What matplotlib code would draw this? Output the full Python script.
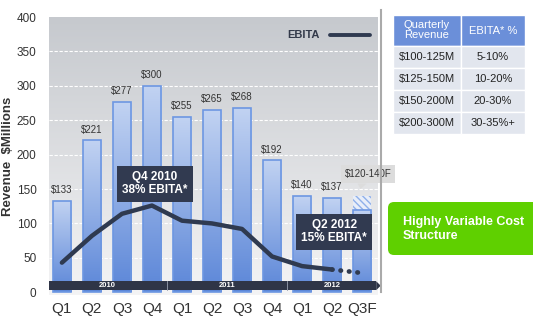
import numpy as np
from matplotlib import pyplot as plt, patches
from matplotlib.colors import LinearSegmentedColormap

quarters = ["Q1", "Q2", "Q3", "Q4", "Q1", "Q2", "Q3", "Q4", "Q1", "Q2", "Q3F"]
revenue = [133, 221, 277, 300, 255, 265, 268, 192, 140, 137, 120]
revenue_labels = ["$133", "$221", "$277", "$300", "$255", "$265", "$268", "$192", "$140", "$137", ""]
forecast_high = 140
ebita = [43, 82, 114, 126, 104, 100, 92, 52, 38, 33]
ebita_forecast = 28
years = ["2010", "2011", "2012"]
year_spans = [(0, 3), (4, 7), (8, 10)]
table_header = ["Quarterly\nRevenue", "EBITA* %"]
table_revenue = ["$100-125M", "$125-150M", "$150-200M", "$200-300M"]
table_ebita = ["5-10%", "10-20%", "20-30%", "30-35%+"]

plt.rcParams["font.family"] = ["Liberation Sans", "DejaVu Sans"]

W, H = 533, 324
fig = plt.figure(figsize=(W / 100, H / 100), dpi=100)
ax = fig.add_axes([49 / W, 1 - 295 / H, (378 - 49) / W, (295 - 17) / H])

x = np.arange(len(quarters))

# background gradient ======
bg = LinearSegmentedColormap.from_list("bg", ["#f4f4f5", "#c6c9ce"])
grad = np.linspace(0, 1, 256).reshape(-1, 1)
ax.imshow(grad, extent=[-0.43, 10.53, -4, 400], origin="lower", cmap=bg,
          aspect="auto", zorder=0)

for yv in range(50, 400, 50):
    ax.axhline(yv, color="white", lw=0.8, ls=(0, (3, 1.5)), zorder=1)

# bars ======================
barcm = LinearSegmentedColormap.from_list("bar", ["#5b86d8", "#c2d3f2"])
bars = ax.bar(x, revenue, width=0.62, facecolor="none", edgecolor="#6d97e2",
              lw=1.2, zorder=3)
for b in bars:
    bx = b.get_x()
    im = ax.imshow(grad, extent=[bx, bx + b.get_width(), 0, b.get_height()],
                   origin="lower", cmap=barcm, aspect="auto", zorder=2)
    im.set_clip_path(b)

# forecast hatched part
ax.bar(x[-1], forecast_high - revenue[-1], bottom=revenue[-1], width=0.62,
       facecolor="#e8eef9", edgecolor="#8fb0ea", hatch="\\\\\\\\\\", lw=0, zorder=2)

ax.set_xlim(-0.43, 10.53)
ax.set_ylim(-4, 400)

for xi, v, lab in zip(x, revenue, revenue_labels):
    if lab:
        ax.text(xi, v + 8, lab, ha="center", va="bottom", fontsize=7,
                color="#333333", zorder=5)

ax.text(x[-1] + 0.2, 172, "$120-140F", ha="center", va="center", fontsize=7,
        color="#333333", zorder=6,
        bbox=dict(boxstyle="square,pad=0.4", fc="#dcdcdc", ec="none"))
ax.add_patch(patches.Polygon([[x[-1] - 0.15, 158], [x[-1] + 0.15, 158], [x[-1] - 0.05, 150]],
                             closed=True, fc="#dcdcdc", ec="none", zorder=6))

# EBITA line ================
ax.plot(x[:len(ebita)], ebita, color="#2f3a50", lw=3.2, solid_capstyle="round", zorder=4)
ax.plot([x[len(ebita) - 1], x[-1]], [ebita[-1], ebita_forecast], color="#2f3a50",
        lw=3.4, ls=(0, (0.1, 1.7)), dash_capstyle="round", zorder=4)

ax.plot([8.93, 10.27], [374, 374], color="#2f3a50", lw=2.8, solid_capstyle="round", zorder=4)
ax.text(8.6, 374, "EBITA", ha="right", va="center", fontsize=8, fontweight="bold",
        color="#333a4a", zorder=4)

box = dict(boxstyle="square,pad=0.45", fc="#313a50", ec="none")
ax.text(3.1, 158, "Q4 2010\n38% EBITA*", ha="center", va="center", fontsize=8.5,
        fontweight="bold", color="white", linespacing=1.15, bbox=box, zorder=6)
ax.text(9.07, 88, "Q2 2012\n15% EBITA*", ha="center", va="center", fontsize=8.5,
        fontweight="bold", color="white", linespacing=1.15, bbox=box, zorder=6)

# year band =================
ax.add_patch(patches.Rectangle((-0.43, 3), 10.9, 13, fc="#2f3547", ec="none",
                               zorder=5, clip_on=False))
ax.add_patch(patches.Polygon([[10.47, 3], [10.47, 16], [10.62, 9.5]], closed=True,
                             fc="#2f3547", ec="none", zorder=5, clip_on=False))
for yr, (a, b) in zip(years, year_spans):
    ax.text((a + b) / 2, 9.5, yr, ha="center", va="center", fontsize=5.5,
            fontweight="bold", color="white", zorder=6)
for sep in [3.5, 7.5]:
    ax.plot([sep, sep], [3, 16], color="#9aa0b0", lw=0.6, zorder=6)

# axes config ===============
ax.set_xticks(x)
ax.set_xticklabels(quarters, fontsize=11, color="#333333")
ax.set_yticks(range(0, 401, 50))
ax.tick_params(axis="y", labelsize=8.5, colors="#333333", length=0, pad=9)
ax.tick_params(axis="x", length=0, pad=5)
for s in ax.spines.values():
    s.set_visible(False)
ax.set_ylabel("Revenue  $Millions", fontsize=9.5, fontweight="bold", color="#333333",
              labelpad=2)

# separator
fig.add_artist(plt.Line2D([381 / W, 381 / W], [1 - 292 / H, 1 - 10 / H],
                          color="#aaaaaa", lw=1.5))

# table =====================
tab = fig.add_axes([0, 0, 1, 1], facecolor="none")
tab.set_xlim(0, W)
tab.set_ylim(H, 0)
tab.axis("off")
cols = [(393, 461), (461, 525)]
for (c0, c1), txt in zip(cols, table_header):
    tab.add_patch(patches.Rectangle((c0, 15), c1 - c0, 31, fc="#6b8fd9", ec="white", lw=1))
    tab.text((c0 + c1) / 2, 30.5, txt, ha="center", va="center", fontsize=8,
             color="white", linespacing=1.0)
for i, (r, e) in enumerate(zip(table_revenue, table_ebita)):
    y0 = 46 + i * 22
    for (c0, c1), txt in zip(cols, [r, e]):
        tab.add_patch(patches.Rectangle((c0, y0), c1 - c0, 22, fc="#e2e6ee", ec="white", lw=1))
        tab.text((c0 + c1) / 2, y0 + 11, txt, ha="center", va="center", fontsize=8,
                 color="#222222")

tab.add_patch(patches.FancyBboxPatch((388, 202), 160, 53,
                                     boxstyle="round,pad=0,rounding_size=6",
                                     fc="#5fd000", ec="none", clip_on=False))
tab.text(403, 229, "Highly Variable Cost\nStructure", ha="left", va="center",
         fontsize=9, fontweight="bold", color="white", linespacing=1.15)

fig.savefig("out.png", dpi=100)
